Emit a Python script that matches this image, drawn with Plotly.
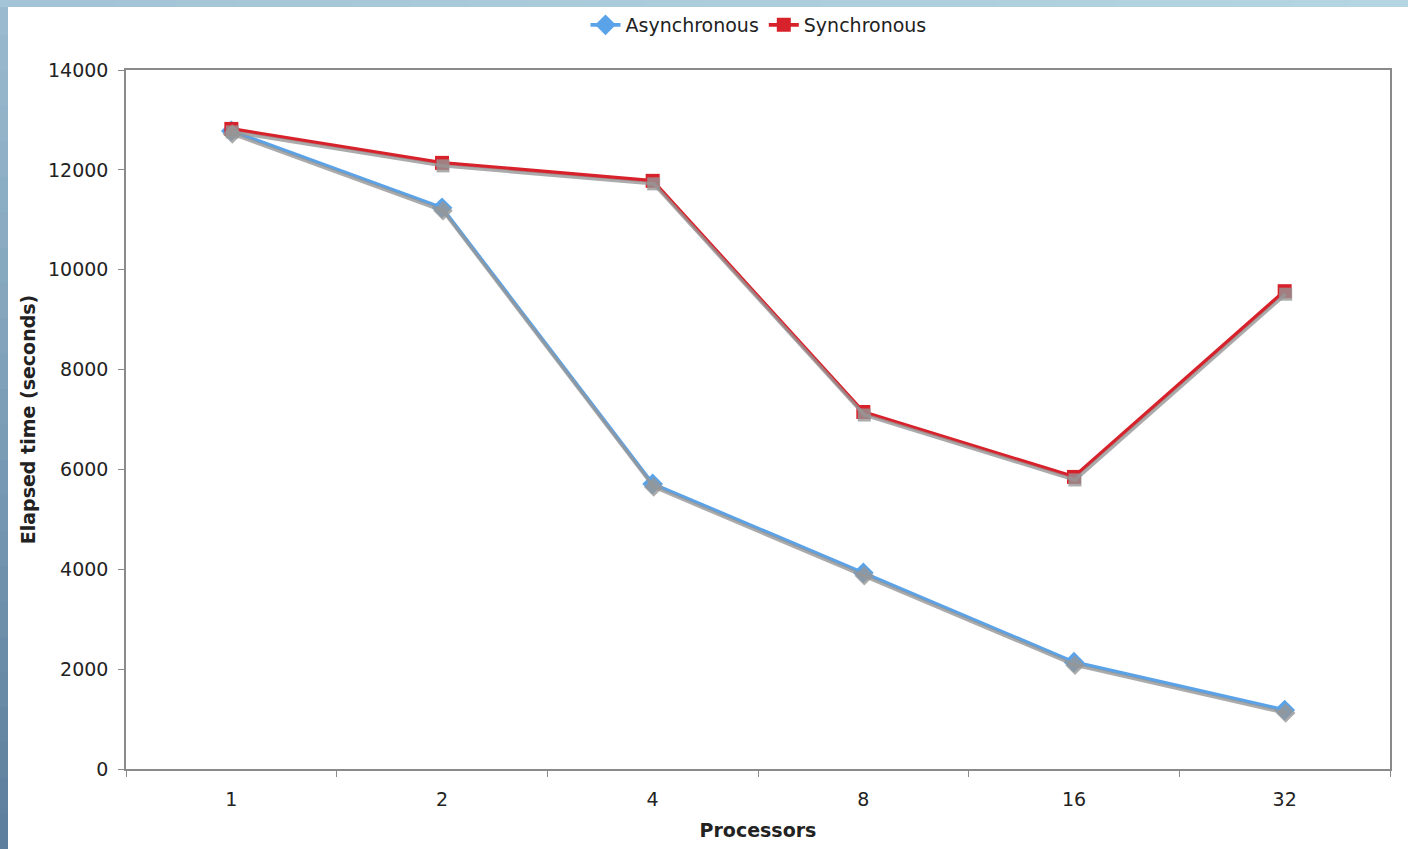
import plotly.graph_objects as go

processors = ["1", "2", "4", "8", "16", "32"]
async_times = [12780, 11240, 5710, 3930, 2140, 1180]
sync_times = [12820, 12140, 11780, 7150, 5850, 9570]
y_ticks = [0, 2000, 4000, 6000, 8000, 10000, 12000, 14000]

W, H = 1408, 849
SX, SY = 1, 3  # shadow offset in px
L, R, T, B = 126, 18 - SX, 70, 80 - SY

blue = "#5BA3E8"
red = "#D8222B"
shadow = "rgba(150,150,150,0.8)"

fig = go.Figure()

# shadow traces on slightly offset axes
fig.add_trace(go.Scatter(x=processors, y=async_times, mode="lines+markers",
                         line=dict(color=shadow, width=3.5),
                         marker=dict(symbol="diamond", size=15, color=shadow),
                         xaxis="x2", yaxis="y2", showlegend=False, hoverinfo="skip"))
fig.add_trace(go.Scatter(x=processors, y=sync_times, mode="lines+markers",
                         line=dict(color=shadow, width=3.5),
                         marker=dict(symbol="square", size=13, color=shadow),
                         xaxis="x2", yaxis="y2", showlegend=False, hoverinfo="skip"))

fig.add_trace(go.Scatter(x=processors, y=async_times, mode="lines+markers", name="Asynchronous",
                         line=dict(color=blue, width=3.8),
                         marker=dict(symbol="diamond", size=16, color=blue)))
fig.add_trace(go.Scatter(x=processors, y=sync_times, mode="lines+markers", name="Synchronous",
                         line=dict(color=red, width=3.8),
                         marker=dict(symbol="square", size=14, color=red)))

pw = W - L - R
ph = H - T - B
dx = SX / pw
dy = SY / ph

font = "DejaVu Sans"
fs = 19

shapes = []
# left gradient strip
n = 24
for i in range(n):
    t = i / (n - 1)
    r0 = int(0x9A + (0x5E - 0x9A) * t)
    g0 = int(0xBB + (0x80 - 0xBB) * t)
    b0 = int(0xCF + (0x9E - 0xCF) * t)
    shapes.append(dict(type="rect", xref="paper", yref="paper",
                       x0=-L / pw, x1=(-L + 8) / pw,
                       y0=1 + T / ph - (i + 1) / n * (H / ph) - 1.5 / ph,
                       y1=1 + T / ph - i / n * (H / ph),
                       fillcolor=f"rgb({r0},{g0},{b0})", line=dict(width=0), layer="below"))
# top strip gradient
m = 24
for i in range(m):
    t = i / (m - 1)
    r0 = int(0xA3 + (0xB4 - 0xA3) * t)
    g0 = int(0xC4 + (0xD6 - 0xC4) * t)
    b0 = int(0xD6 + (0xE2 - 0xD6) * t)
    shapes.append(dict(type="rect", xref="paper", yref="paper",
                       x0=-L / pw + i / m * (W / pw),
                       x1=-L / pw + (i + 1) / m * (W / pw) + 1.5 / pw,
                       y0=1 + (T - 7) / ph, y1=1 + T / ph,
                       fillcolor=f"rgb({r0},{g0},{b0})", line=dict(width=0), layer="below"))

axis_line = "#8A8A8A"
fig.update_layout(
    width=W, height=H,
    margin=dict(l=L, r=R, t=T, b=B, autoexpand=False),
    paper_bgcolor="white", plot_bgcolor="rgba(0,0,0,0)",
    font=dict(family=font, size=fs, color="#222222"),
    showlegend=True,
    legend=dict(orientation="h", x=0.5, xanchor="center",
                yref="container", y=1 - 25 / H, yanchor="middle",
                font=dict(family=font, size=fs, color="#222222"),
                bgcolor="rgba(0,0,0,0)", tracegroupgap=0),
    xaxis=dict(type="category", categoryarray=processors, range=[-0.5, 5.5], domain=[0, 1 - dx],
               showline=True, linecolor=axis_line, linewidth=1.5, mirror=True,
               ticks="outside", tickson="boundaries", ticklen=6, tickcolor=axis_line,
               ticklabelstandoff=12,
               showgrid=False, zeroline=False, anchor="y",
               title=dict(text="<b>Processors</b>", font=dict(family=font, size=fs), standoff=15),
               tickfont=dict(family=font, size=fs)),
    yaxis=dict(range=[0, 14000], tickvals=y_ticks, tickformat="d", domain=[dy, 1],
               showline=True, linecolor=axis_line, linewidth=1.5, mirror=True,
               ticks="outside", ticklen=6, tickcolor=axis_line,
               ticklabelstandoff=6,
               showgrid=False, zeroline=False, anchor="x",
               title=dict(text="<b>Elapsed time (seconds)</b>", font=dict(family=font, size=fs), standoff=7),
               tickfont=dict(family=font, size=fs)),
    xaxis2=dict(type="category", categoryarray=processors, range=[-0.5, 5.5], domain=[dx, 1],
                visible=False, anchor="y2"),
    yaxis2=dict(range=[0, 14000], domain=[0, 1 - dy], visible=False, anchor="x2"),
    shapes=shapes,
)

fig.write_html("out.html", config={"displayModeBar": False},
               post_script="document.body.style.margin='0px';")
